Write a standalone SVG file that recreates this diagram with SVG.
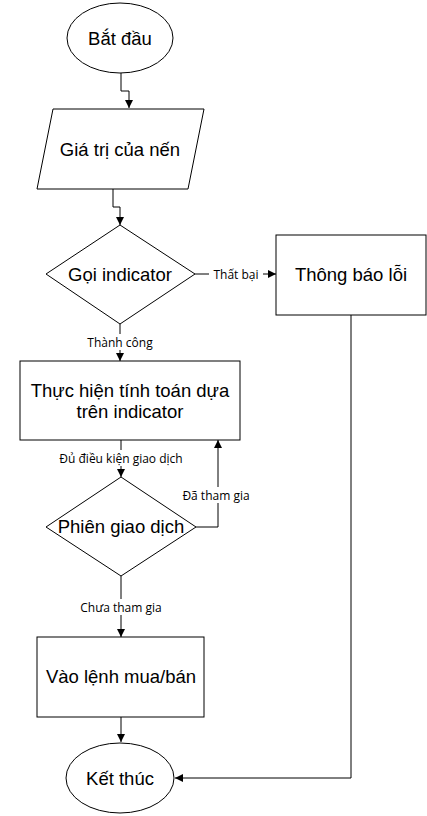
<svg xmlns="http://www.w3.org/2000/svg" width="427" height="816" viewBox="0 0 427 816">
<defs>
<marker id="ah" viewBox="0 0 8 8" refX="8" refY="4" markerWidth="8" markerHeight="8" markerUnits="userSpaceOnUse" orient="auto">
<path d="M0,0 L8,4 L0,8 Z" fill="#000"/>
</marker>
</defs>
<style>
.s{fill:#fff;stroke:#000;stroke-width:1}
.t{font-family:"Liberation Sans",Arial,sans-serif;font-size:18.5px;fill:#000;text-anchor:middle;dominant-baseline:central}
.l{font-family:"Open Sans","Liberation Sans",sans-serif;font-size:12px;fill:#000;text-anchor:middle;dominant-baseline:central}
.c{fill:none;stroke:#000;stroke-width:1}
.bg{fill:#fff}
</style>
<rect width="427" height="816" fill="#fff"/>
<g id="connectors">
<path class="c" d="M121,73 V91 H129 V108" marker-end="url(#ah)"/>
<path class="c" d="M113,189 V207 H120 V225" marker-end="url(#ah)"/>
<path class="c" d="M195,274 H276" marker-end="url(#ah)"/>
<path class="c" d="M120,324 V361" marker-end="url(#ah)"/>
<path class="c" d="M121,440 V477" marker-end="url(#ah)"/>
<path class="c" d="M196,527 H218 V440" marker-end="url(#ah)"/>
<path class="c" d="M121,576 V637" marker-end="url(#ah)"/>
<path class="c" d="M121,717 V742" marker-end="url(#ah)"/>
<path class="c" d="M351,315 V778 H175" marker-end="url(#ah)"/>
<rect class="bg" x="209" y="266" width="54" height="16"/>
<text class="l" x="236" y="274">Thất bại</text>
<rect class="bg" x="84" y="334" width="72" height="16"/>
<text class="l" x="120" y="342">Thành công</text>
<rect class="bg" x="50" y="450" width="142" height="16"/>
<text class="l" x="121" y="458">Đủ điều kiện giao dịch</text>
<rect class="bg" x="178" y="487" width="76" height="16"/>
<text class="l" x="216" y="495">Đã tham gia</text>
<rect class="bg" x="73" y="599" width="96" height="16"/>
<text class="l" x="121" y="607">Chưa tham gia</text>
</g>
<g id="start">
<ellipse class="s" cx="120" cy="38" rx="53" ry="35"/>
<text class="t" x="120" y="38">Bắt đầu</text>
</g>
<g id="input">
<polygon class="s" points="53,109 204,109 188,189 37,189"/>
<text class="t" x="120" y="149">Giá trị của nến</text>
</g>
<g id="call">
<polygon class="s" points="120,225 195,274 120,324 46,274"/>
<text class="t" x="120" y="274">Gọi indicator</text>
</g>
<g id="error">
<rect class="s" x="276" y="235" width="150" height="80"/>
<text class="t" x="351" y="274">Thông báo lỗi</text>
</g>
<g id="calc">
<rect class="s" x="20" y="361" width="220" height="79"/>
<text class="t" x="130" y="390">Thực hiện tính toán dựa</text>
<text class="t" x="130" y="411">trên indicator</text>
</g>
<g id="session">
<polygon class="s" points="121,477 196,527 121,576 46,527"/>
<text class="t" x="121" y="526">Phiên giao dịch</text>
</g>
<g id="order">
<rect class="s" x="37" y="637" width="167" height="80"/>
<text class="t" x="121" y="676">Vào lệnh mua/bán</text>
</g>
<g id="end">
<ellipse class="s" cx="120" cy="778" rx="54" ry="35"/>
<text class="t" x="120" y="778">Kết thúc</text>
</g>
</svg>
